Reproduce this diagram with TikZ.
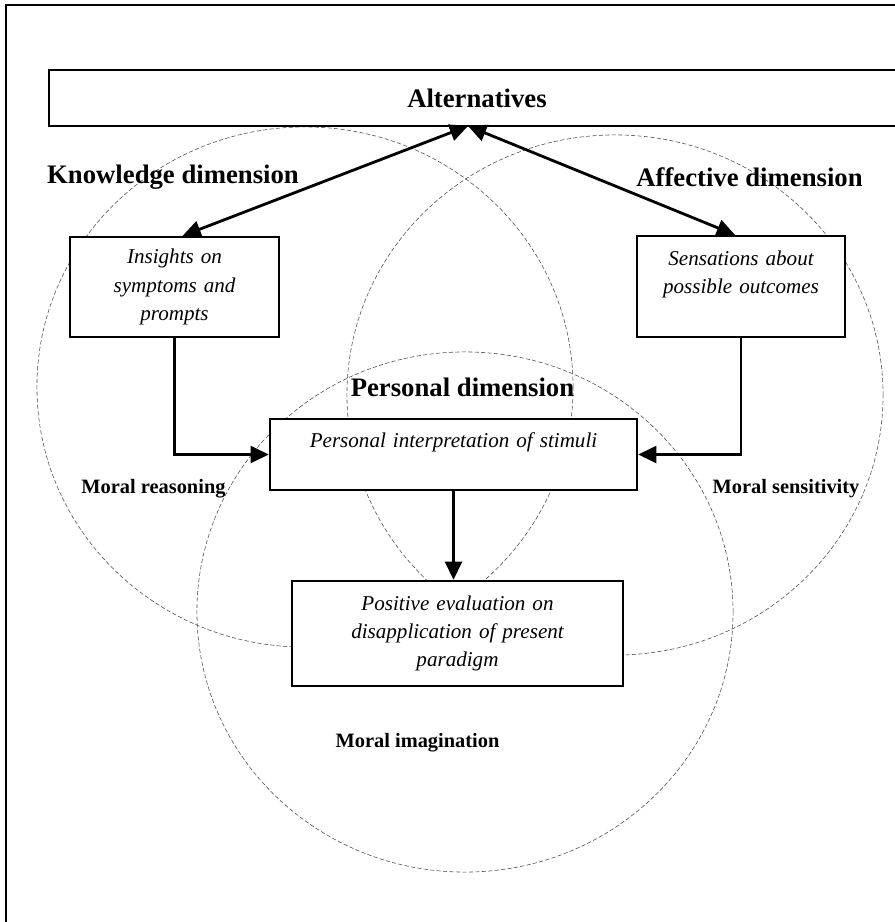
\documentclass[tikz,border=0pt]{standalone}
\usepackage{fontspec}
\setmainfont{Liberation Serif}
\usetikzlibrary{arrows.meta}

\begin{document}
\begin{tikzpicture}[x=0.025cm,y=-0.025cm,
  >={Triangle[length=13pt,width=12pt]},
  dimcircle/.style={draw=black!70,line width=0.4pt,dash pattern=on 3pt off 1.6pt},
  box/.style={draw,line width=1.6pt,fill=white,align=center,inner sep=2pt,
    font=\fontsize{15}{20}\selectfont\itshape},
  dimlabel/.style={font=\fontsize{19}{23}\selectfont\bfseries},
  morallabel/.style={font=\fontsize{14.5}{17}\selectfont\bfseries},
  link/.style={line width=2pt}]
\useasboundingbox (0,0) rectangle (895,922);
\clip (0,0) rectangle (895,922);
% Frame
\draw[line width=1.8pt] (6,5) rectangle (920,940);

% Dimension circles
\draw[dimcircle] (305,387) ellipse [x radius=6.7cm,y radius=6.5cm];
\draw[dimcircle] (615,395) ellipse [x radius=6.7cm,y radius=6.5cm];
\draw[dimcircle] (465,612) ellipse [x radius=6.7cm,y radius=6.5cm];

% Boxes
\node[box,font=\fontsize{19}{23}\selectfont\bfseries,minimum width=21.4cm,minimum height=1.4cm] (alt) at (477,98) {Alternatives};
\node[box,text width=4.6cm,minimum width=5.225cm,minimum height=2.5cm] (ins) at (174.5,287) {Insights on\\ symptoms and\\ prompts};
\node[box,text width=4.6cm,minimum width=5.2cm,minimum height=2.525cm] (sen) at (741,286.5) {Sensations about\\ possible outcomes\\ \mbox{}};
\node[box,text width=8.6cm,minimum width=9.175cm,minimum height=1.775cm] (per) at (453.5,454.5) {Personal interpretation of stimuli\\ \mbox{}};
\node[box,text width=7.6cm,minimum width=8.275cm,minimum height=2.625cm] (pos) at (457.5,633.5) {Positive evaluation on\\ disapplication of present\\ paradigm};

% Labels
\node[dimlabel] (know) at (173,177) {Knowledge dimension};
\node[dimlabel] (affe) at (749.5,177) {Affective dimension};
\node[dimlabel] (pers) at (462.5,387) {Personal dimension};
\node[morallabel] (reas) at (153.5,489) {Moral reasoning};
\node[morallabel] (sens) at (786,489) {Moral sensitivity};
\node[morallabel] (imag) at (417.5,743) {Moral imagination};

% Arrows
\coordinate (hub) at (468,126);
\draw[link,<->] (hub) -- ([xshift=0.2cm]ins.north);
\draw[link,<->] (hub) -- ([xshift=-0.15cm]sen.north);
\draw[link,->] (ins.south) |- (per.west);
\draw[link,->] (sen.south) |- (per.east);
\draw[link,->] (per.south) -- (per.south |- pos.north);
\end{tikzpicture}
\end{document}
